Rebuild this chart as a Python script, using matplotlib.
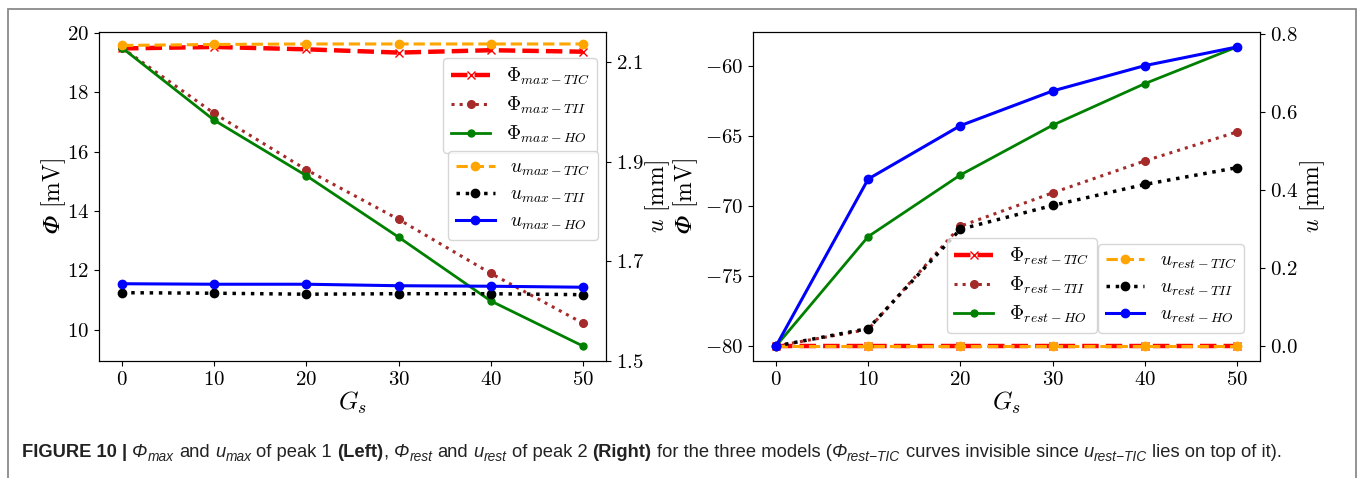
import matplotlib
matplotlib.use('Agg')
import matplotlib.pyplot as plt
from matplotlib.patches import Rectangle

# ---------------- data ----------------
gs = [0, 10, 20, 30, 40, 50]

phi_max_tic = [19.48, 19.53, 19.45, 19.34, 19.42, 19.37]
phi_max_tii = [19.50, 17.29, 15.39, 13.72, 11.90, 10.22]
phi_max_ho = [19.50, 17.06, 15.19, 13.12, 10.97, 9.45]
u_max_tic = [2.133, 2.135, 2.136, 2.136, 2.136, 2.136]
u_max_tii = [1.637, 1.636, 1.634, 1.635, 1.635, 1.633]
u_max_ho = [1.655, 1.654, 1.654, 1.651, 1.650, 1.648]

phi_rest_tic = [-80.0, -80.0, -80.0, -80.0, -80.0, -80.0]
phi_rest_tii = [-80.0, -78.81, -71.44, -69.06, -66.78, -64.71]
phi_rest_ho = [-80.0, -72.18, -67.78, -64.23, -61.26, -58.64]
u_rest_tic = [0.0, 0.0, 0.0, 0.0, 0.0, 0.0]
u_rest_tii = [0.0, 0.045, 0.300, 0.361, 0.415, 0.458]
u_rest_ho = [0.0, 0.429, 0.566, 0.655, 0.720, 0.768]

left_u_ticks = [1.5, 1.7, 1.9, 2.1]

# (text, kind, space before)
caption_pieces = [
    ("FIGURE 10 |", 'bold', False),
    ("\u03a6", 'ital', True), ("max", 'sub', False),
    ("and", 'normal', True),
    ("u", 'ital', True), ("max", 'sub', False),
    ("of peak 1", 'normal', True),
    ("(Left)", 'bold', True),
    (",", 'normal', False),
    ("\u03a6", 'ital', True), ("rest", 'sub', False),
    ("and", 'normal', True),
    ("u", 'ital', True), ("rest", 'sub', False),
    ("of peak 2", 'normal', True),
    ("(Right)", 'bold', True),
    ("for the three models (", 'normal', True),
    ("\u03a6", 'ital', False), ("rest\u2212TIC", 'sub', False),
    ("curves invisible since", 'normal', True),
    ("u", 'ital', True), ("rest\u2212TIC", 'sub', False),
    ("lies on top of it).", 'normal', True),
]

# ---------------- style ----------------
plt.rcParams['font.family'] = 'serif'
plt.rcParams['font.serif'] = ['cmr10', 'DejaVu Serif']
plt.rcParams['mathtext.fontset'] = 'cm'
plt.rcParams['axes.formatter.use_mathtext'] = True
plt.rcParams['axes.unicode_minus'] = True

capfont = 'Liberation Sans'

W, H = 1360, 478
fig = plt.figure(figsize=(W / 100, H / 100), dpi=100)


def fx(px):
    return px / W


def fy(py):
    return 1 - py / H


TICK = 15
LAB = 17
LEG = 14

styles = {
    'tic_phi': dict(color='red', ls='--', lw=3.2, marker='x', ms=5.5),
    'tii_phi': dict(color='brown', ls=':', lw=2.2, marker='o', ms=5.5),
    'ho_phi': dict(color='green', ls='-', lw=2.0, marker='o', ms=5.0),
    'tic_u': dict(color='orange', ls='--', lw=2.2, marker='o', ms=6),
    'tii_u': dict(color='black', ls=':', lw=2.5, marker='o', ms=6),
    'ho_u': dict(color='blue', ls='-', lw=2.2, marker='o', ms=6),
}

PHI_IT = '\U0001D6F7'  # mathematical italic capital phi


def panel(left_px, phi_sets, u_sets, phi_labels, u_labels, phi_lab_x, u_lab_x):
    ax = fig.add_axes([fx(left_px), fy(361), 507 / W, 329 / H])
    axb = ax.twinx()
    hp = []
    for d, lab, key in zip(phi_sets, phi_labels, ['tic_phi', 'tii_phi', 'ho_phi']):
        l, = ax.plot(gs, d, label=lab, **styles[key])
        hp.append(l)
    hu = []
    for d, lab, key in zip(u_sets, u_labels, ['tic_u', 'tii_u', 'ho_u']):
        l, = axb.plot(gs, d, label=lab, **styles[key])
        hu.append(l)
    for a in (ax, axb):
        a.tick_params(labelsize=TICK)
    ax.set_xlabel(r'$G_s$', fontsize=LAB + 1, labelpad=1)
    ax.set_ylabel('$' + PHI_IT + '$ [mV]', fontsize=LAB)
    axb.set_ylabel(r'$u$ [mm]', fontsize=LAB)
    ax.yaxis.set_label_coords(phi_lab_x, 0.5)
    axb.yaxis.set_label_coords(u_lab_x, 0.5)
    return ax, axb, hp, hu


# left panel
ax1, ax1b, hp1, hu1 = panel(
    99, [phi_max_tic, phi_max_tii, phi_max_ho], [u_max_tic, u_max_tii, u_max_ho],
    [r'$\Phi_{max-TIC}$', r'$\Phi_{max-TII}$', r'$\Phi_{max-HO}$'],
    [r'$u_{max-TIC}$', r'$u_{max-TII}$', r'$u_{max-HO}$'], -0.061, 1.073)
ax1b.set_ylim(1.5, 2.16)
ax1b.set_yticks(left_u_ticks)
leg1 = ax1b.legend(handles=hp1, loc='upper right', bbox_to_anchor=(0.982, 0.921),
                   borderaxespad=0, fontsize=LEG, labelspacing=0.4)
ax1b.add_artist(leg1)
ax1b.legend(handles=hu1, loc='upper right', bbox_to_anchor=(0.984, 0.638),
            borderaxespad=0, fontsize=LEG, labelspacing=0.4)

# right panel
ax2, ax2b, hp2, hu2 = panel(
    753, [phi_rest_tic, phi_rest_tii, phi_rest_ho], [u_rest_tic, u_rest_tii, u_rest_ho],
    [r'$\Phi_{rest-TIC}$', r'$\Phi_{rest-TII}$', r'$\Phi_{rest-HO}$'],
    [r'$u_{rest-TIC}$', r'$u_{rest-TII}$', r'$u_{rest-HO}$'], -0.1045, 1.075)
leg3 = ax2b.legend(handles=hp2, loc='lower right', bbox_to_anchor=(0.6785, 0.085),
                   borderaxespad=0, fontsize=LEG, labelspacing=0.4)
ax2b.add_artist(leg3)
ax2b.legend(handles=hu2, loc='lower left', bbox_to_anchor=(0.680, 0.085),
            borderaxespad=0, fontsize=LEG, labelspacing=0.4)

# frame
fig.patches.append(Rectangle((fx(8), fy(490)), fx(1356) - fx(8), fy(9) - fy(490),
                             transform=fig.transFigure, fill=False,
                             edgecolor='#8a8a8a', lw=1.3))

# caption
renderer = fig.canvas.get_renderer()
capcolor = '#222222'
BASE_Y = 457


def draw_caption(size):
    def make(txt, kind, x):
        kw = dict(fontsize=size, color=capcolor, family=capfont, va='baseline', ha='left')
        y = BASE_Y
        if kind == 'bold':
            kw['weight'] = 'bold'
        elif kind == 'ital':
            kw['style'] = 'italic'
        elif kind == 'sub':
            kw['style'] = 'italic'
            kw['fontsize'] = size * 0.75
            y = BASE_Y + size * 0.32
        return fig.text(x, fy(y), txt, **kw)

    t1 = fig.text(0, 0, 'a a', fontsize=size, family=capfont)
    t2 = fig.text(0, 0, 'aa', fontsize=size, family=capfont)
    space = (t1.get_window_extent(renderer).width - t2.get_window_extent(renderer).width)
    t1.remove()
    t2.remove()
    texts = []
    xpix = 22
    for txt, kind, sp in caption_pieces:
        if sp:
            xpix += space
        elif kind == 'sub':
            xpix += 0.3
        t = make(txt, kind, fx(xpix))
        texts.append(t)
        xpix = t.get_window_extent(renderer).x1
    return texts, xpix


texts, xend = draw_caption(10.0)
for t in texts:
    t.remove()
size = 10.0 * (1285 - 22) / (xend - 22)
draw_caption(size)

fig.savefig('out.png', dpi=100)
